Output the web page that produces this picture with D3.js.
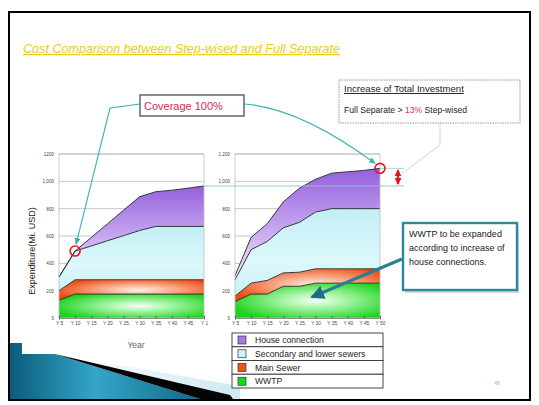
<!DOCTYPE html>
<html>
<head>
<meta charset="utf-8">
<script src="https://cdn.jsdelivr.net/npm/d3@7"></script>
<style>
  html, body { margin: 0; padding: 0; background: #fff; }
  svg { display: block; }
  text { font-family: "Liberation Sans", Arial, sans-serif; }
</style>
</head>
<body>
<svg id="slide" width="539" height="405"></svg>
<script>
// Investment per period, million USD (stacked components)
const years = ["Y 5","Y 10","Y 15","Y 20","Y 25","Y 30","Y 35","Y 40","Y 45","Y 50"];
const stepXLabels = ["Y 5","Y 10","Y 15","Y 20","Y 25","Y 30","Y 35","Y 40","Y 45","Y 1"];
const fullXLabels = ["Y 5","Y 10","Y 15","Y 20","Y 25","Y 30","Y 35","Y 40","Y 45","Y 50"];

const seriesNames = ["House connection", "Secondary  and lower sewers", "Main Sewer", "WWTP"];

// Step-wised scheme
const stepWWTP      = [130, 175, 175, 175, 175, 175, 175, 175, 175, 175];
const stepMain      = [ 70, 105, 105, 105, 105, 105, 105, 105, 105, 105];
const stepSecondary = [100, 210, 247, 285, 322, 360, 390, 390, 390, 390];
const stepHouse     = [  0,   0,  62, 123, 186, 247, 254, 265, 280, 296];

// Full separate scheme
const fullWWTP      = [120, 175, 175, 232, 232, 255, 255, 255, 255, 255];
const fullMain      = [ 40,  80, 100,  98, 103, 105, 105, 105, 105, 105];
const fullSecondary = [120, 245, 285, 330, 365, 415, 440, 440, 440, 440];
const fullHouse     = [ 30,  90, 130, 190, 250, 240, 260, 270, 280, 295];

const yTicks = [0, 200, 400, 600, 800, 1000, 1200];
const stepYLabels = ["0", "200", "400", "600", "800", "1,000", "1200"];
const fullYLabels = ["0", "200", "400", "600", "800", "1,000", "1,200"];

const svg = d3.select("#slide");
const defs = svg.append("defs");

// ---- gradients for the stacked layers ----
function linGrad(id, stops, x2 = 0, y2 = 1) {
  const g = defs.append("linearGradient").attr("id", id)
    .attr("x1", 0).attr("y1", 0).attr("x2", x2).attr("y2", y2);
  stops.forEach(([o, c]) => g.append("stop").attr("offset", o).attr("stop-color", c));
}
function radGrad(id, stops) {
  const g = defs.append("radialGradient").attr("id", id)
    .attr("cx", 0.55).attr("cy", 0.5).attr("r", 0.6);
  stops.forEach(([o, c]) => g.append("stop").attr("offset", o).attr("stop-color", c));
}
linGrad("gHouse", [[0, "#9560dc"], [0.55, "#c6a8f0"], [1, "#f3ecfd"]]);
linGrad("gSec", [[0, "#c2eef4"], [0.6, "#dcf8fb"], [1, "#c8f2f6"]]);
radGrad("gMain", [[0, "#fff2ec"], [0.35, "#fbb89a"], [1, "#ec4a12"]]);
radGrad("gWWTP", [[0, "#f6fff6"], [0.35, "#a8f5a8"], [1, "#1ed41e"]]);
linGrad("gSwoosh", [[0, "#0b5c7c"], [0.45, "#33a6c8"], [1, "#0e6a8a"]], 1, 0);
linGrad("gSwooshLight", [[0, "#ffffff"], [1, "#cfe9f2"]], 1, 0);

const fills = ["url(#gHouse)", "url(#gSec)", "url(#gMain)", "url(#gWWTP)"];
const legendColors = ["#a678e0", "#cdf3f7", "#ee5514", "#14dc14"];

// ---- markers ----
function marker(id, color, w, h, refX) {
  defs.append("marker").attr("id", id)
    .attr("viewBox", `0 0 ${w} ${h}`).attr("refX", refX).attr("refY", h / 2)
    .attr("markerWidth", w).attr("markerHeight", h)
    .attr("markerUnits", "userSpaceOnUse").attr("orient", "auto-start-reverse")
    .append("path").attr("d", `M0,0L${w},${h / 2}L0,${h}Z`).attr("fill", color);
}
marker("mTeal", "#36b2b4", 7, 6, 6);
marker("mRed", "#e4141c", 7, 7, 6);
marker("mBig", "#1f6e84", 14, 14, 12);

// ---- slide frame ----
svg.append("rect").attr("x", 9).attr("y", 12).attr("width", 521).attr("height", 388)
  .attr("fill", "#fff").attr("stroke", "#000").attr("stroke-width", 2);

// bottom-left decorative swoosh
svg.append("path").attr("d", "M60,355L240,386L240,399L205,399Z").attr("fill", "url(#gSwooshLight)");
svg.append("path").attr("d", "M10,343L22,343L22,354L55,354L200,399L10,399Z").attr("fill", "url(#gSwoosh)");
svg.append("path").attr("d", "M55,354L230,395L233,399L200,399Z").attr("fill", "#050505");

// title
svg.append("text").attr("x", 23).attr("y", 53)
  .attr("font-size", 12.6).attr("font-style", "italic").attr("fill", "#eccd12")
  .attr("text-decoration", "underline")
  .text("Cost Comparison between Step-wised and Full Separate");

// ---- shared y scale ----
const y = d3.scaleLinear().domain([0, 1200]).range([318, 154]);

function buildRows(w, m, s, h) {
  return years.map((yr, i) => ({ year: yr, "WWTP": w[i], "Main Sewer": m[i],
    "Secondary  and lower sewers": s[i], "House connection": h[i] }));
}

function drawChart(x0, x1, rows, xLabels, yLabels) {
  const x = d3.scalePoint().domain(years).range([x0, x1]);
  const g = svg.append("g");
  g.append("rect").attr("x", x0).attr("y", y(1200)).attr("width", x1 - x0)
    .attr("height", y(0) - y(1200)).attr("fill", "#fff");

  const keys = ["WWTP", "Main Sewer", "Secondary  and lower sewers", "House connection"];
  const stacked = d3.stack().keys(keys)(rows);
  const area = d3.area().x(d => x(d.data.year)).y0(d => y(d[0])).y1(d => y(d[1]));
  const line = d3.line().x(d => x(d.data.year)).y(d => y(d[1]));

  // grid lines behind the layers
  g.append("g").selectAll("line").data(yTicks.slice(1)).join("line")
    .attr("x1", x0).attr("x2", x1).attr("y1", d => y(d)).attr("y2", d => y(d))
    .attr("stroke", "#b8b8b8").attr("stroke-width", 0.8);

  g.append("g").selectAll("path").data(stacked).join("path")
    .attr("d", area)
    .attr("fill", d => fills[seriesNames.indexOf(d.key)]);
  g.append("g").selectAll("path").data(stacked).join("path")
    .attr("d", line).attr("fill", "none")
    .attr("stroke", "#262626").attr("stroke-width", 0.9);

  // plot frame
  g.append("rect").attr("x", x0).attr("y", y(1200)).attr("width", x1 - x0)
    .attr("height", y(0) - y(1200)).attr("fill", "none")
    .attr("stroke", "#bdbdbd").attr("stroke-width", 0.8);

  // y axis labels
  const ya = g.append("g").attr("transform", `translate(${x0},0)`)
    .call(d3.axisLeft(y).tickValues(yTicks).tickSize(0).tickPadding(5)
      .tickFormat((d, i) => yLabels[i]));
  ya.select(".domain").remove();
  ya.selectAll("text").attr("font-size", 4.6).attr("fill", "#444")
    .attr("font-family", "Liberation Sans, Arial, sans-serif");

  // x axis with small ticks
  const xa = g.append("g").attr("transform", `translate(0,${y(0)})`)
    .call(d3.axisBottom(x).tickSize(2).tickPadding(2)
      .tickFormat((d, i) => xLabels[i]));
  xa.select(".domain").attr("stroke", "#555").attr("stroke-width", 0.6);
  xa.selectAll(".tick line").attr("stroke", "#555").attr("y1", -2).attr("y2", 0);
  xa.selectAll("text").attr("font-size", 4.8).attr("fill", "#444")
    .attr("font-family", "Liberation Sans, Arial, sans-serif");

  return { x, stacked };
}

const stepRows = buildRows(stepWWTP, stepMain, stepSecondary, stepHouse);
const fullRows = buildRows(fullWWTP, fullMain, fullSecondary, fullHouse);

const left = drawChart(59, 204, stepRows, stepXLabels, stepYLabels);
const right = drawChart(235, 380, fullRows, fullXLabels, fullYLabels);

// axis titles of the step-wised chart
svg.append("text").attr("transform", "translate(35,251) rotate(-90)")
  .attr("text-anchor", "middle").attr("font-size", 9).attr("fill", "#222")
  .text("Expenditure(Mi. USD)");
svg.append("text").attr("x", 136).attr("y", 348).attr("text-anchor", "middle")
  .attr("font-size", 8.5).attr("fill", "#666").text("Year");

// totals used by the annotations
const stepTop = left.stacked[3];
const fullTop = right.stacked[3];
const stepFinal = stepTop[stepTop.length - 1][1];
const fullFinal = fullTop[fullTop.length - 1][1];

// reference lines at the two final totals
svg.append("line").attr("x1", 204).attr("x2", 404)
  .attr("y1", y(stepFinal)).attr("y2", y(stepFinal))
  .attr("stroke", "#8cc4c6").attr("stroke-width", 0.9);
svg.append("line").attr("x1", 380).attr("x2", 404)
  .attr("y1", y(fullFinal)).attr("y2", y(fullFinal))
  .attr("stroke", "#9ec9cb").attr("stroke-width", 0.9);

// red double arrow showing the difference
svg.append("line").attr("x1", 398).attr("x2", 398)
  .attr("y1", y(fullFinal) + 2).attr("y2", y(stepFinal) - 2)
  .attr("stroke", "#e4141c").attr("stroke-width", 2.2)
  .attr("marker-start", "url(#mRed)").attr("marker-end", "url(#mRed)");

// circles at 100% coverage points
const cov1 = { x: left.x(years[1]), y: y(stepTop[1][1]) };
const cov2 = { x: right.x(years[9]), y: y(fullFinal) };
[cov1, cov2].forEach(p => svg.append("circle").attr("cx", p.x).attr("cy", p.y).attr("r", 5)
  .attr("fill", "none").attr("stroke", "#e8141e").attr("stroke-width", 1.6));

// "Coverage 100%" callout
svg.append("path").attr("d", `M140,104L110,108L${cov1.x + 1},${cov1.y - 7}`)
  .attr("fill", "none").attr("stroke", "#36b2b4").attr("stroke-width", 1.1)
  .attr("marker-end", "url(#mTeal)");
svg.append("path").attr("d", `M244,104Q300,108 ${cov2.x - 5},${cov2.y - 5}`)
  .attr("fill", "none").attr("stroke", "#36b2b4").attr("stroke-width", 1.1)
  .attr("marker-end", "url(#mTeal)");
svg.append("rect").attr("x", 140).attr("y", 95).attr("width", 104).attr("height", 21)
  .attr("fill", "#fff").attr("stroke", "#5a5a5a").attr("stroke-width", 1.4);
svg.append("text").attr("x", 144).attr("y", 110).attr("font-size", 11)
  .attr("fill", "#e0284e").attr("font-family", "Open Sans, Liberation Sans, sans-serif")
  .text("Coverage 100%");

// investment increase note
svg.append("rect").attr("x", 339).attr("y", 80).attr("width", 181).attr("height", 43)
  .attr("fill", "#fff").attr("stroke", "#8a8a8a").attr("stroke-width", 0.9)
  .attr("stroke-dasharray", "1.5,1");
svg.append("path").attr("d", "M440,123L440,145L400,175")
  .attr("fill", "none").attr("stroke", "#9ab8ba").attr("stroke-width", 0.9)
  .attr("stroke-dasharray", "1.5,1");
svg.append("text").attr("x", 344).attr("y", 92).attr("font-size", 9.6)
  .attr("fill", "#222").attr("text-decoration", "underline")
  .text("Increase of Total Investment");
const pct = Math.round((fullFinal / stepFinal - 1) * 100);
const t2 = svg.append("text").attr("x", 344).attr("y", 113).attr("font-size", 8.6)
  .attr("fill", "#222");
t2.append("tspan").text("Full Separate > ");
t2.append("tspan").attr("fill", "#e2306a").text(pct + "%");
t2.append("tspan").text(" Step-wised");

// WWTP expansion note
svg.append("line").attr("x1", 402).attr("y1", 259).attr("x2", 312).attr("y2", 297)
  .attr("stroke", "#2a7f92").attr("stroke-width", 3)
  .attr("marker-end", "url(#mBig)");
svg.append("rect").attr("x", 405).attr("y", 226).attr("width", 114).attr("height", 67)
  .attr("fill", "#bdbdbd").attr("opacity", 0.6);
svg.append("rect").attr("x", 403).attr("y", 223).attr("width", 114).attr("height", 67)
  .attr("fill", "#fff").attr("stroke", "#2a8a9c").attr("stroke-width", 2.4);
["WWTP to be expanded", "according to increase of", "house connections."].forEach((s, i) =>
  svg.append("text").attr("x", 409).attr("y", 237 + i * 14).attr("font-size", 9)
    .attr("fill", "#1a1a1a").text(s));

// legend
const lg = svg.append("g").attr("transform", "translate(232,333)");
const rowH = 13.75;
seriesNames.forEach((name, i) => {
  const r = lg.append("g").attr("transform", `translate(0,${i * rowH})`);
  r.append("rect").attr("width", 151).attr("height", rowH)
    .attr("fill", "#fff").attr("stroke", "#333").attr("stroke-width", 0.9);
  r.append("rect").attr("x", 6).attr("y", 3).attr("width", 8).attr("height", 8)
    .attr("fill", legendColors[i]).attr("stroke", "#333").attr("stroke-width", 0.7);
  r.append("text").attr("x", 23).attr("y", 10.2).attr("font-size", 8.6)
    .attr("fill", "#222").text(name);
});

// page number
svg.append("text").attr("x", 497).attr("y", 385).attr("font-size", 5)
  .attr("fill", "#aaa").attr("text-anchor", "middle").text("48");
</script>
</body>
</html>
